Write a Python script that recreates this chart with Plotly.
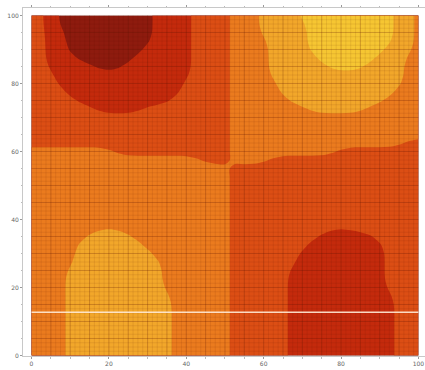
import numpy as np
import plotly.graph_objects as go

# Contour level at each grid node (x = 0..100 step 2.5),
# rows listed from y = 100 (top) down to y = 0 (bottom).
# 0 dark red, 1 red, 2 red-orange, 3 orange, 4 amber, 5 yellow
level_rows = [
    "221000000000011112222" + "33344445555555555443",  # 100
    "221000000000011112222" + "33344444555555555443",  # 97.5
    "221100000000011112222" + "33344444555555555443",  # 95
    "221100000000011112222" + "33334444555555555443",  # 92.5
    "221100000000111112222" + "33334444555555554443",  # 90
    "221110000001111112222" + "33334444455555544433",  # 87.5
    "221111100011111112222" + "33334444445555444433",  # 85
    "222111111111111112222" + "33334444444444444433",  # 82.5
    "222111111111111122222" + "33333444444444444433",  # 80
    "222211111111111122222" + "33333444444444444333",  # 77.5
    "222221111111111222222" + "33333344444444443333",  # 75
    "222222211111222222222" + "33333333444444333333",  # 72.5
    "222222222222222222222" + "33333333333333333333",  # 70
    "222222222222222222222" + "33333333333333333333",  # 67.5
    "222222222222222222222" + "33333333333333333333",  # 65
    "222222222222222222222" + "33333333333333333322",  # 62.5
    "333333333222222222222" + "33333333333222222222",  # 60
    "333333333333333333222" + "33332222222222222222",  # 57.5
    "333333333333333333333" + "22222222222222222222",  # 55
    "333333333333333333333" + "22222222222222222222",  # 52.5
    "333333333333333333333" + "22222222222222222222",  # 50
    "333333333333333333333" + "22222222222222222222",  # 47.5
    "333333333333333333333" + "22222222222222222222",  # 45
    "333333333333333333333" + "22222222222222222222",  # 42.5
    "333333333333333333333" + "22222222222222222222",  # 40
    "333333334333333333333" + "22222222222122222222",  # 37.5
    "333333444443333333333" + "22222222211111122222",  # 35
    "333334444444333333333" + "22222222111111112222",  # 32.5
    "333334444444433333333" + "22222221111111112222",  # 30
    "333334444444443333333" + "22222221111111112222",  # 27.5
    "333344444444443333333" + "22222211111111112222",  # 25
    "333344444444443333333" + "22222211111111112222",  # 22.5
    "333344444444443333333" + "22222211111111112222",  # 20
    "333344444444444333333" + "22222211111111111222",  # 17.5
    "333344444444444333333" + "22222211111111111222",  # 15
    "333344444444444333333" + "22222211111111111222",  # 12.5
    "333344444444444333333" + "22222211111111111222",  # 10
    "333344444444444333333" + "22222211111111111222",  # 7.5
    "333344444444444333333" + "22222211111111111222",  # 5
    "333344444444444333333" + "22222211111111111222",  # 2.5
    "333344444444444333333" + "22222211111111111222",  # 0
]
assert len(level_rows) == 41 and all(len(r) == 41 for r in level_rows)

grid_x = np.arange(0, 100.001, 2.5)
grid_y = np.arange(0, 100.001, 2.5)
level_map = np.array([[int(c) for c in row] for row in reversed(level_rows)], dtype=float)

# soften the stair-steps of the hand-read level map so the filled contours come out rounded
kernel = np.array([1, 4, 6, 4, 1], dtype=float) / 16.0
def _smooth(a, axis):
    pad = [(0, 0), (0, 0)]
    pad[axis] = (2, 2)
    p = np.pad(a, pad, mode="edge")
    out = np.zeros_like(a)
    for k, w in enumerate(kernel):
        sl = [slice(None), slice(None)]
        sl[axis] = slice(k, k + a.shape[axis])
        out += w * p[tuple(sl)]
    return out
z = _smooth(_smooth(level_map, 0), 1)

level_colors = ["#8E1B0E", "#C42A0C", "#DC4E14", "#EB7B1E", "#F2A72A", "#F6C632"]

tick_vals = [0, 20, 40, 60, 80, 100]
tick_text = ["0", "20", "40", "60", "80", "100"]

fig = go.Figure()
fig.add_trace(go.Contour(
    x=grid_x, y=grid_y, z=z,
    autocontour=False,
    contours=dict(start=0.5, end=4.5, size=1, coloring="fill", showlines=False),
    colorscale=[[k / (len(level_colors) - 1), c] for k, c in enumerate(level_colors)],
    showscale=False,
    line=dict(smoothing=1.0, width=0),
    hoverinfo="skip",
))

shapes = []
for g in np.arange(0, 100.001, 1.25):
    major = abs(g / 5 - round(g / 5)) < 1e-6
    col = "rgba(90,20,0,0.32)" if major else "rgba(90,20,0,0.16)"
    w = 0.8 if major else 0.6
    shapes.append(dict(type="line", xref="x", yref="y", x0=g, x1=g, y0=0, y1=100,
                       line=dict(color=col, width=w), layer="above"))
    shapes.append(dict(type="line", xref="x", yref="y", x0=0, x1=100, y0=g, y1=g,
                       line=dict(color=col, width=w), layer="above"))
# light horizontal stripe
shapes.append(dict(type="line", xref="x", yref="y", x0=0, x1=100, y0=12.7, y1=12.7,
                   line=dict(color="rgba(255,235,215,0.9)", width=1.5), layer="above"))

axis_common = dict(
    showgrid=False, zeroline=False, showline=True, linecolor="#c8c8c8", linewidth=1,
    mirror="ticks", ticks="outside", ticklen=2, tickcolor="#999",
    tickfont=dict(family="DejaVu Sans", size=6, color="#666"),
    tickvals=tick_vals, ticktext=tick_text, automargin=False,
    minor=dict(ticks="outside", ticklen=1.5, dtick=5, tickcolor="#bbb"),
)

fig.update_layout(
    width=425, height=370, autosize=False,
    margin=dict(l=23, r=0, t=8, b=14),
    paper_bgcolor="white", plot_bgcolor="white",
    xaxis=dict(range=[-2.2, 101.7], **axis_common),
    yaxis=dict(range=[-0.15, 102.2], **axis_common),
    shapes=shapes,
    showlegend=False,
)

fig.write_html("out.html", config={"displayModeBar": False},
               post_script="document.body.style.margin='0px';")
